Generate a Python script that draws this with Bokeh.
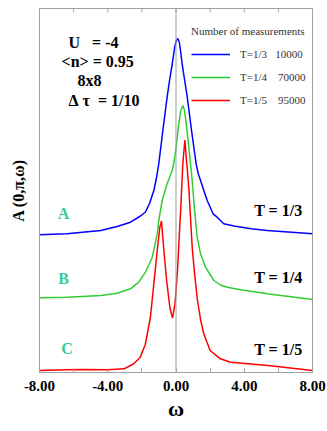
from bokeh.plotting import figure
from bokeh.models import Label, Span, Legend, LegendItem, FixedTicker
from bokeh.embed import file_html
from bokeh.resources import INLINE

# ---------------- data ----------------
omega_blue = [-8.0, -6.4, -4.4, -3.45, -2.67, -2.08, -1.79, -1.55, -1.30, -1.15, -1.01, -0.77,
              -0.52, -0.37, -0.22, -0.08, 0.02, 0.11, 0.2, 0.28, 0.36, 0.51, 0.66, 0.91,
              1.18, 1.3, 1.44, 1.63, 1.83, 2.17, 2.41, 2.8, 3.4, 4.4, 5.35, 8.0]
a_blue = [1.377, 1.387, 1.42, 1.46, 1.503, 1.565, 1.605, 1.69, 1.82, 1.94, 2.087, 2.42,
          2.753, 2.93, 3.087, 3.25, 3.32, 3.34, 3.30, 3.20, 3.087, 2.92, 2.753, 2.42,
          2.087, 1.99, 1.92, 1.82, 1.72, 1.587, 1.553, 1.487, 1.465, 1.437, 1.42, 1.387]

omega_green = [-8.0, -6.4, -4.4, -3.45, -2.67, -2.18, -1.79, -1.39, -1.10, -1.01, -0.81,
               -0.52, -0.22, -0.1, 0.01, 0.16, 0.28, 0.40, 0.5, 0.60, 0.75, 0.95, 1.09,
               1.24, 1.44, 1.73, 2.22, 2.6, 3.0, 3.78, 5.35, 8.0]
a_green = [0.747, 0.753, 0.77, 0.793, 0.837, 0.903, 1.003, 1.153, 1.387, 1.52, 1.72,
           1.887, 2.02, 2.12, 2.253, 2.487, 2.62, 2.67, 2.62, 2.487, 2.253, 1.92, 1.62,
           1.353, 1.187, 1.053, 0.92, 0.875, 0.853, 0.827, 0.787, 0.73]

omega_red = [-8.0, -6.4, -5.4, -4.0, -3.05, -2.5, -2.1, -1.8, -1.5, -1.3, -1.1, -0.95,
             -0.85, -0.75, -0.55, -0.35, -0.2, -0.05, 0.1, 0.2, 0.3, 0.4, 0.52, 0.63, 0.75,
             0.95, 1.1, 1.26, 1.45, 1.63, 2.0, 2.6, 3.2, 5.4, 8.0]
a_red = [0.02, 0.027, 0.03, 0.027, 0.037, 0.085, 0.15, 0.28, 0.55, 0.887, 1.22, 1.45,
         1.515, 1.30, 0.92, 0.64, 0.545, 0.70, 1.05, 1.39, 1.72, 2.087, 2.325, 2.09, 1.85,
         1.25, 0.97, 0.72, 0.52, 0.387, 0.22, 0.137, 0.103, 0.07, 0.02]

x_ticks = [-8, -4, 0, 4, 8]
x_minor_ticks = [-6, -2, 2, 6]
x_tick_labels = ["-8.00", "-4.00", "0.00", "4.00", "8.00"]

legend_title = "Number of measurements"
legend_labels = ["T=1/3\u00a0\u00a0\u00a010000", "T=1/4\u00a0\u00a0\u00a0\u00a070000",
                 "T=1/5\u00a0\u00a0\u00a0\u00a095000"]
curve_labels = ["A", "B", "C"]
temp_labels = ["T = 1/3", "T = 1/4", "T = 1/5"]
param_lines = ["U\u00a0\u00a0 = -4", "<n> = 0.95", "8x8", "\u0394\u00a0\u03c4\u00a0 = 1/10"]

# ---------------- styles ----------------
BLUE = "#0000ff"
GREEN = "#33cc33"
RED = "#ff0000"
TEAL = "#33cc99"
GRAY = "#a0a0a0"
SERIF = "Liberation Serif"
Y_TOP = 3.64

p = figure(width=327, height=431, x_range=(-8, 8), y_range=(0, Y_TOP),
           output_backend="svg", toolbar_location=None,
           min_border_left=39, min_border_right=15, min_border_top=8, min_border_bottom=59)
p.grid.visible = False
p.outline_line_color = GRAY
p.background_fill_color = "white"
p.border_fill_color = "white"

# bottom axis
xa = p.xaxis[0]
xa.ticker = FixedTicker(ticks=x_ticks, minor_ticks=x_minor_ticks)
xa.major_label_overrides = {t: l for t, l in zip(x_ticks, x_tick_labels)}
xa.major_tick_in = 4
xa.major_tick_out = 0
xa.minor_tick_in = 4
xa.minor_tick_out = 0
xa.axis_line_color = GRAY
xa.major_tick_line_color = GRAY
xa.minor_tick_line_color = GRAY
xa.major_label_text_font = SERIF
xa.major_label_text_font_style = "bold"
xa.major_label_text_font_size = "15px"
xa.major_label_text_color = "black"
xa.major_label_standoff = 8
xa.axis_label = "\u03c9"
xa.axis_label_text_font = SERIF
xa.axis_label_text_font_style = "bold"
xa.axis_label_text_font_size = "22px"
xa.axis_label_text_color = "black"
xa.axis_label_standoff = 2

# left axis (no ticks)
ya = p.yaxis[0]
ya.ticker = FixedTicker(ticks=[])
ya.major_tick_line_color = None
ya.minor_tick_line_color = None
ya.axis_line_color = GRAY
ya.axis_label = "A (0,\u03c0,\u03c9)"
ya.axis_label_text_font = SERIF
ya.axis_label_text_font_style = "bold"
ya.axis_label_text_font_size = "16px"
ya.axis_label_text_color = "black"
ya.axis_label_standoff = 13

# inward ticks along the top edge, at the same positions as the bottom axis
top_ticks = x_ticks + x_minor_ticks
p.segment(x0=top_ticks, x1=top_ticks, y0=[Y_TOP] * len(top_ticks),
          y1=[Y_TOP - 0.04] * len(top_ticks), line_color=GRAY, line_width=1)

# zero line
p.add_layout(Span(location=0, dimension="height", line_color=GRAY, line_width=1))

rb = p.line(omega_blue, a_blue, line_color=BLUE, line_width=1.5)
rg = p.line(omega_green, a_green, line_color=GREEN, line_width=1.5)
rr = p.line(omega_red, a_red, line_color=RED, line_width=1.5)

legend = Legend(items=[LegendItem(label=legend_labels[0], renderers=[rb]),
                       LegendItem(label=legend_labels[1], renderers=[rg]),
                       LegendItem(label=legend_labels[2], renderers=[rr])],
                title=legend_title, location=(152, 261), orientation="vertical",
                padding=0, margin=0, spacing=1, glyph_width=39, glyph_height=22,
                label_height=22, label_standoff=10,
                label_text_font=SERIF, label_text_font_size="11px", label_text_color="#333333",
                title_text_font=SERIF, title_text_font_size="11px", title_text_font_style="normal",
                title_text_color="#333333", title_standoff=6,
                border_line_color=None, background_fill_alpha=0)
p.add_layout(legend)

# parameter block
param_pos = [(-6.30, 3.30), (-6.71, 3.11), (-5.77, 2.92), (-6.30, 2.72)]
for txt, (x, y) in zip(param_lines, param_pos):
    p.add_layout(Label(x=x, y=y, text=txt, text_font=SERIF, text_font_style="bold",
                       text_font_size="16px", text_color="black",
                       text_align="left", text_baseline="middle"))

# curve letters
letter_pos = [(-6.59, 1.587), (-6.59, 0.937), (-6.38, 0.237)]
for txt, (x, y) in zip(curve_labels, letter_pos):
    p.add_layout(Label(x=x, y=y, text=txt, text_font=SERIF, text_font_style="bold",
                       text_font_size="16px", text_color=TEAL,
                       text_align="center", text_baseline="middle"))

# temperature labels
temp_pos = [(7.41, 1.62), (7.41, 0.953), (7.41, 0.227)]
for txt, (x, y) in zip(temp_labels, temp_pos):
    p.add_layout(Label(x=x, y=y, text=txt, text_font=SERIF, text_font_style="bold",
                       text_font_size="16px", text_color="black",
                       text_align="right", text_baseline="middle"))

open("out.html", "w").write(file_html(p, INLINE))
